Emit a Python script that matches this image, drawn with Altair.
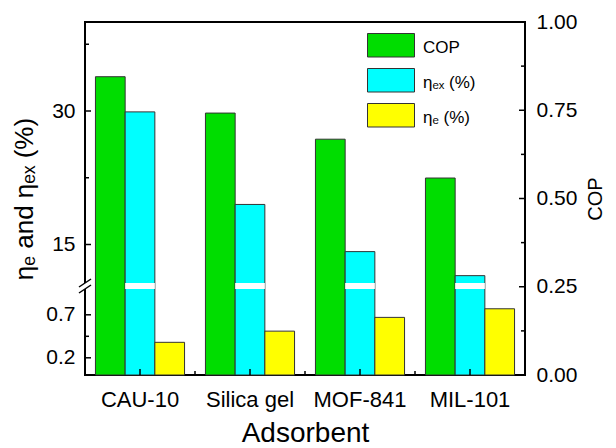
import altair as alt
import pandas as pd

# Performance of four adsorbents
adsorbents = ["CAU-10", "Silica gel", "MOF-841", "MIL-101"]
cop = [0.845, 0.742, 0.668, 0.558]
eta_ex = [29.9, 19.5, 14.2, 11.5]
eta_e = [0.38, 0.51, 0.67, 0.77]

series_names = ["COP", "ηₑₓ (%)", "ηₑ (%)"]
series_colors = ["#00dd00", "#00ffff", "#ffff00"]

# Axis ticks (left axis is broken between 1 and 10)
left_major = [0.2, 0.7, 15, 30]
left_minor = [0.45, 22.5, 37.5]
cop_major = [0.0, 0.25, 0.5, 0.75, 1.0]
cop_minor = [0.125, 0.375, 0.625, 0.875]

W, H = 440, 353
LOW_MAX = 1.0
HIGH_MIN, HIGH_MAX = 10.0, 40.0
SPLIT = 86 / H          # share of the plot height used by the lower segment
GAP = 6 / H             # white cut drawn through bars that cross the break
PAD_IN, PAD_OUT = 0.19, 0.095
STEP = W / (len(adsorbents) - PAD_IN + 2 * PAD_OUT)
FONT = "Liberation Sans"


def seg_expr(f):
    return (f"({f} <= {LOW_MAX} ? {f} / {LOW_MAX} * {SPLIT} : "
            f"{SPLIT} + ({f} - {HIGH_MIN}) / {HIGH_MAX - HIGH_MIN} * {1 - SPLIT})")


def seg(v):
    if v <= LOW_MAX:
        return v / LOW_MAX * SPLIT
    return SPLIT + (v - HIGH_MIN) / (HIGH_MAX - HIGH_MIN) * (1 - SPLIT)


rows = []
for i, a in enumerate(adsorbents):
    rows.append({"adsorbent": a, "series": series_names[0], "value": cop[i]})
    rows.append({"adsorbent": a, "series": series_names[1], "value": eta_ex[i]})
    rows.append({"adsorbent": a, "series": series_names[2], "value": eta_e[i]})
bars_df = pd.DataFrame(rows)

yscale = alt.Scale(domain=[0, 1], nice=False, zero=False)
xscale = alt.Scale(domain=adsorbents, paddingInner=PAD_IN, paddingOuter=PAD_OUT)
xoscale = alt.Scale(domain=series_names, paddingInner=0, paddingOuter=0)

left_label = (f"datum.value < {SPLIT} ? format(datum.value / {SPLIT} * {LOW_MAX}, '.1f') : "
              f"format({HIGH_MIN} + (datum.value - {SPLIT}) / {1 - SPLIT} * {HIGH_MAX - HIGH_MIN}, '.0f')")

# wide legend swatch, drawn above the entry's anchor point
SWATCH = "M-1,-1H1V0H-1Z"

bars = alt.Chart(bars_df).transform_calculate(
    pos=f"datum.series == '{series_names[0]}' ? datum.value : " + seg_expr("datum.value")
).mark_bar(stroke="#333333", strokeWidth=1).encode(
    x=alt.X("adsorbent:N", scale=xscale, sort=adsorbents,
            axis=alt.Axis(orient="bottom", title="Adsorbent", labelAngle=0, tickSize=0,
                          domain=False, labelPadding=14, titlePadding=9,
                          labelFontSize=22, titleFontSize=28)),
    xOffset=alt.XOffset("series:N", scale=xoscale, sort=series_names),
    y=alt.Y("pos:Q", scale=yscale,
            axis=alt.Axis(orient="left", values=[seg(v) for v in left_major],
                          labelExpr=left_label, title="ηₑ and ηₑₓ (%)",
                          tickSize=0, domain=False, grid=False, labelPadding=10,
                          labelFontSize=21, titleFontSize=26, titlePadding=8)),
    color=alt.Color("series:N", sort=series_names,
                    scale=alt.Scale(domain=series_names, range=series_colors),
                    legend=alt.Legend(orient="none", legendX=282, legendY=11, title=None,
                                      symbolType=SWATCH, symbolSize=2209,
                                      symbolStrokeColor="#333333", symbolStrokeWidth=1,
                                      symbolOpacity=1,
                                      labelFontSize=17, labelFont=FONT, labelColor="black",
                                      labelBaseline="bottom", labelOffset=8,
                                      rowPadding=7)),
)

# white cut through the eta_ex bars that cross the axis break
cuts = alt.Chart(bars_df).transform_filter(
    f"datum.series == '{series_names[1]}' && datum.value > {HIGH_MIN}"
).transform_calculate(
    g0=f"{SPLIT}", g1=f"{SPLIT + GAP}"
).mark_bar(color="white").encode(
    x=alt.X("adsorbent:N", scale=xscale, sort=adsorbents, axis=None),
    xOffset=alt.XOffset("series:N", scale=xoscale, sort=series_names),
    y=alt.Y("g0:Q", scale=yscale, axis=None),
    y2="g1:Q",
)

# inward ticks on the left axis
lt_major = alt.Chart(pd.DataFrame({"t": left_major})).transform_calculate(
    p=seg_expr("datum.t")).mark_rule(color="black", strokeWidth=1.5).encode(
    x=alt.value(0), x2=alt.value(6), y=alt.Y("p:Q", scale=yscale, axis=None))
lt_minor = alt.Chart(pd.DataFrame({"t": left_minor})).transform_calculate(
    p=seg_expr("datum.t")).mark_rule(color="black", strokeWidth=1.5).encode(
    x=alt.value(0), x2=alt.value(4), y=alt.Y("p:Q", scale=yscale, axis=None))

# right COP axis with inward ticks
rt_major = alt.Chart(pd.DataFrame({"t": cop_major})).mark_rule(
    color="black", strokeWidth=1.5).encode(
    x=alt.value(W - 6), x2=alt.value(W),
    y=alt.Y("t:Q", scale=yscale,
            axis=alt.Axis(orient="right", values=cop_major, format=".2f", title="COP",
                          titleAngle=270, tickSize=0, domain=False, grid=False,
                          labelPadding=11, labelFontSize=21, titleFontSize=20,
                          titlePadding=29)))
rt_minor = alt.Chart(pd.DataFrame({"t": cop_minor})).mark_rule(
    color="black", strokeWidth=1.5).encode(
    x=alt.value(W - 4), x2=alt.value(W), y=alt.Y("t:Q", scale=yscale, axis=None))

# inward ticks on the category axis: group centres and group boundaries
xt_major = alt.Chart(pd.DataFrame({"adsorbent": adsorbents})).mark_rule(
    color="black", strokeWidth=1.5).encode(
    x=alt.X("adsorbent:N", scale=xscale, sort=adsorbents, axis=None),
    y=alt.value(H), y2=alt.value(H - 6))
xt_minor = alt.Chart(pd.DataFrame({"adsorbent": adsorbents[:-1]})).mark_rule(
    color="black", strokeWidth=1.5, xOffset=STEP * PAD_IN / 2).encode(
    x=alt.X("adsorbent:N", scale=xscale, sort=adsorbents, axis=None, bandPosition=1),
    y=alt.value(H), y2=alt.value(H - 4))

# axis-break marker on the left axis
brk_df = pd.DataFrame({"b": [SPLIT, SPLIT + GAP]})
brk_cut = alt.Chart(pd.DataFrame({"k": [0]})).mark_rect(color="white").encode(
    x=alt.value(-2), x2=alt.value(2),
    y=alt.datum(SPLIT, scale=yscale, axis=None), y2=alt.datum(SPLIT + GAP))
brk_lines = alt.Chart(brk_df).transform_calculate(
    lo=f"datum.b - {4 / H}", hi=f"datum.b + {4 / H}"
).mark_rule(color="black", strokeWidth=1.5).encode(
    x=alt.value(-6), x2=alt.value(6),
    y=alt.Y("lo:Q", scale=yscale, axis=None), y2="hi:Q")

chart = alt.layer(
    bars, cuts, lt_major, lt_minor, rt_major, rt_minor, xt_major, xt_minor,
    brk_cut, brk_lines
).resolve_axis(x="independent", y="independent").properties(
    width=W, height=H,
    autosize=alt.AutoSizeParams(type="none"),
    padding={"left": 85, "top": 22, "right": 91, "bottom": 73},
).configure_view(
    stroke="black", strokeWidth=2
).configure_axis(
    labelFont=FONT, titleFont=FONT, labelColor="black", titleColor="black",
    titleFontWeight="normal"
).configure_legend(padding=0)

chart.save("out.html", embed_options={"renderer": "svg", "actions": False})
